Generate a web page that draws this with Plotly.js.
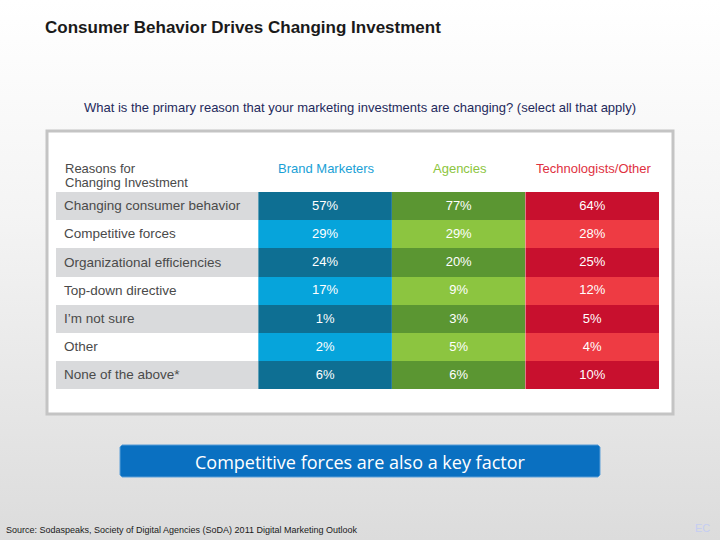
<!DOCTYPE html>
<html>
<head>
<meta charset="utf-8">
<script src="https://cdn.plot.ly/plotly-3.0.1.min.js"></script>
<style>
html,body{margin:0;padding:0;}
body{width:720px;height:540px;background:linear-gradient(to bottom,#ffffff 0%,#f4f4f4 40%,#dcdcdc 100%);}
#chart{width:720px;height:540px;}
</style>
</head>
<body>
<div id="chart"></div>
<script>
var headerLabels = ["Reasons for<br>Changing Investment", "Brand Marketers", "Agencies", "Technologists/Other"];
var headerColors = ['#4a4a4a', '#1a9fd6', '#8cc540', '#e0313f'];
var reasons = ["Changing consumer behavior", "Competitive forces", "Organizational efficiencies", "Top-down directive", "I\u2019m not sure", "Other", "None of the above*"];
var brandMarketers = [57, 29, 24, 17, 1, 2, 6];
var agencies = [77, 29, 20, 9, 3, 5, 6];
var technologists = [64, 28, 25, 12, 5, 4, 10];

function alt(a, b, n) { var r = []; for (var i = 0; i < n; i++) r.push(i % 2 === 0 ? a : b); return r; }
var n = reasons.length;

// table geometry (pixels)
var tLeft = 56, tRight = 660, tTop = 192, rowH = 28.2, hdrH = 1;
var colW = [203, 134, 134, 134];

var trace = {
  type: 'table',
  domain: {x: [tLeft/720, tRight/720], y: [1 - (tTop + rowH * n + 10)/540, 1 - (tTop - hdrH)/540]},
  columnwidth: colW,
  header: {
    values: ['', '', '', ''],
    height: hdrH,
    fill: {color: 'rgba(255,255,255,0)'},
    line: {width: 0, color: 'rgba(255,255,255,0)'},
    font: {size: 1, color: 'rgba(255,255,255,0)'}
  },
  cells: {
    values: [reasons, brandMarketers, agencies, technologists],
    suffix: ['', '%', '%', '%'],
    align: ['left', 'center', 'center', 'center'],
    height: rowH,
    fill: {color: [
      alt('#d9dadc', '#ffffff', n),
      alt('#0e6f93', '#06a4db', n),
      alt('#5b9632', '#8cc540', n),
      alt('#c8102e', '#ee3b43', n)
    ]},
    line: {width: 0, color: '#ffffff'},
    font: {family: 'Liberation Sans, Arial, sans-serif', size: [13.5, 13, 13, 13], color: ['#4a4a4a', '#ffffff', '#ffffff', '#ffffff']}
  }
};

var annotations = [];
var hdrFont = 'Liberation Sans, Arial, sans-serif';
var lines0 = headerLabels[0].split('<br>');
annotations.push({text: lines0[0], xref: 'paper', yref: 'paper', x: 63/720, y: 1 - 168.5/540,
  xanchor: 'left', yanchor: 'middle', showarrow: false, font: {family: hdrFont, size: 13, color: headerColors[0]}});
annotations.push({text: lines0[1], xref: 'paper', yref: 'paper', x: 63/720, y: 1 - 182/540,
  xanchor: 'left', yanchor: 'middle', showarrow: false, font: {family: hdrFont, size: 13, color: headerColors[0]}});
var xc = tLeft + colW[0];
for (var c = 1; c < headerLabels.length; c++) {
  annotations.push({text: headerLabels[c], xref: 'paper', yref: 'paper', x: (xc + colW[c] / 2) / 720, y: 1 - 168/540,
    xanchor: 'center', yanchor: 'middle', showarrow: false, font: {family: hdrFont, size: 13, color: headerColors[c]}});
  xc += colW[c];
}

annotations.push(
  {text: 'Consumer Behavior Drives Changing Investment', xref: 'paper', yref: 'paper',
   x: 43/720, y: 1 - 27/540, xanchor: 'left', yanchor: 'middle', showarrow: false,
   font: {family: 'Liberation Sans, Arial, sans-serif', size: 17, color: '#1a1a1a', weight: 'bold'}},
  {text: 'What is the primary reason that your marketing investments are changing? (select all that apply)', xref: 'paper', yref: 'paper',
   x: 360/720, y: 1 - 107/540, xanchor: 'center', yanchor: 'middle', showarrow: false,
   font: {family: 'Liberation Sans Narrow, Liberation Sans, Arial, sans-serif', size: 13, color: '#1f2a5c'}},
  {text: 'Competitive forces are also a key factor', xref: 'paper', yref: 'paper',
   x: 360/720, y: 1 - 462/540, xanchor: 'center', yanchor: 'middle', showarrow: false,
   font: {family: 'Open Sans, Liberation Sans, sans-serif', size: 18, color: '#ffffff'}},
  {text: 'Source: Sodaspeaks, Society of Digital Agencies (SoDA) 2011 Digital Marketing Outlook', xref: 'paper', yref: 'paper',
   x: 4/720, y: 1 - 530/540, xanchor: 'left', yanchor: 'middle', showarrow: false,
   font: {family: 'Liberation Sans Narrow, Liberation Sans, Arial, sans-serif', size: 9, color: '#1a1a1a'}},
  {text: 'EC', xref: 'paper', yref: 'paper',
   x: 702/720, y: 1 - 528/540, xanchor: 'center', yanchor: 'middle', showarrow: false,
   font: {family: 'Liberation Sans, Arial, sans-serif', size: 11, color: '#c5cdf2'}}
);

function rr(x0, y0, x1, y1, r) {
  function px(x) { return (x / 720).toFixed(5); }
  function py(y) { return (1 - y / 540).toFixed(5); }
  return 'M' + px(x0 + r) + ',' + py(y0) + ' L' + px(x1 - r) + ',' + py(y0) +
    ' L' + px(x1) + ',' + py(y0 + r) + ' L' + px(x1) + ',' + py(y1 - r) +
    ' L' + px(x1 - r) + ',' + py(y1) + ' L' + px(x0 + r) + ',' + py(y1) +
    ' L' + px(x0) + ',' + py(y1 - r) + ' L' + px(x0) + ',' + py(y0 + r) + ' Z';
}

var layout = {
  width: 720, height: 540,
  margin: {l: 0, r: 0, t: 0, b: 0},
  paper_bgcolor: 'rgba(0,0,0,0)',
  plot_bgcolor: 'rgba(0,0,0,0)',
  showlegend: false,
  shapes: [
    {type: 'rect', xref: 'paper', yref: 'paper', layer: 'below',
     x0: 47/720, x1: 673/720, y0: 1 - 414/540, y1: 1 - 131/540,
     fillcolor: '#ffffff', line: {color: '#c4c4c4', width: 3}},
    {type: 'path', xref: 'paper', yref: 'paper', layer: 'below',
     path: rr(120, 445, 600, 477, 2),
     fillcolor: '#0a70c1', line: {color: '#5a9fd8', width: 1}}
  ],
  annotations: annotations
};

Plotly.newPlot('chart', [trace], layout, {displayModeBar: false, staticPlot: true});
</script>
</body>
</html>
